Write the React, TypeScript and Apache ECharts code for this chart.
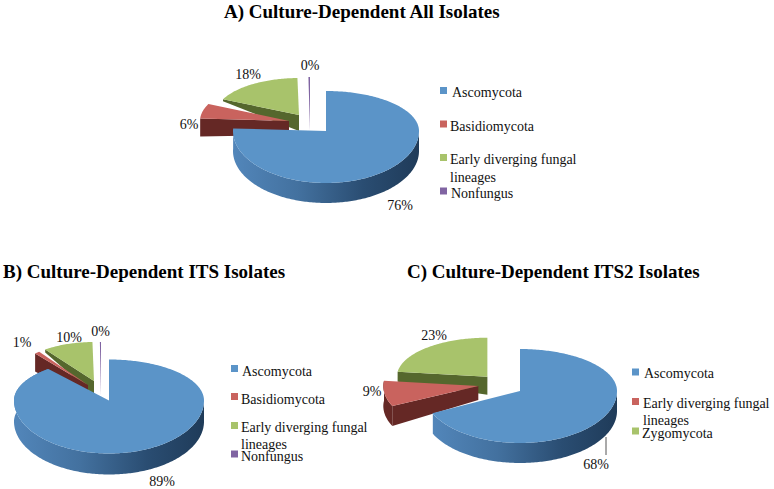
import React, { useEffect, useRef } from "react";
import * as echarts from "echarts";

const namesAB = ["Ascomycota", "Basidiomycota", "Early diverging fungal\nlineages", "Nonfungus"];
const namesC = ["Ascomycota", "Early diverging fungal\nlineages", "Zygomycota"];
const valuesA = [76, 6, 17.7, 0.3];
const valuesB = [89, 1, 9.7, 0.3];
const valuesC = [68, 9, 23];
const coloursAB = ["#5b94c8", "#c9635e", "#a8c36b", "#8064a2"];
const coloursC = ["#5b94c8", "#c9635e", "#a8c36b"];
const wallsAB = ["#2f5680", "#652825", "#55672d", "#4a3a63"];
const wallsC = ["#2f5680", "#652825", "#55672d"];

const FONT = "'Liberation Serif','Times New Roman',serif";
const TEXT = "#111111";

type Geo = { ax: number; ay: number; rx: number; ryT: number; ryB: number; dA: number; dC: number; lx: number; ly: number };

const geoA: Geo[] = [
  { ax: 326, ay: 131, rx: 93, ryT: 40, ryB: 52, dA: 0, dC: 20, lx: 400, ly: 205 },
  { ax: 289, ay: 121, rx: 89, ryT: 40, ryB: 40, dA: 14, dC: 18, lx: 189, ly: 124 },
  { ax: 299, ay: 115, rx: 84, ryT: 37, ryB: 37, dA: 16, dC: 2, lx: 248, ly: 74 },
  { ax: 310, ay: 130, rx: 84, ryT: 53, ryB: 53, dA: 0, dC: 0, lx: 310, ly: 65 },
];
const geoB: Geo[] = [
  { ax: 109, ay: 400.5, rx: 95, ryT: 41, ryB: 53, dA: 0, dC: 21, lx: 162, ly: 481 },
  { ax: 88, ay: 385, rx: 83, ryT: 41, ryB: 41, dA: 15, dC: 18, lx: 22, ly: 342 },
  { ax: 94, ay: 381, rx: 83, ryT: 39, ryB: 39, dA: 14, dC: 3, lx: 69, ly: 337 },
  { ax: 101, ay: 396, rx: 60, ryT: 54, ryB: 54, dA: 0, dC: 0, lx: 100.5, ly: 331 },
];
const geoC: Geo[] = [
  { ax: 520, ay: 391, rx: 97, ryT: 42, ryB: 52, dA: 0, dC: 20, lx: 596, ly: 464 },
  { ax: 478.3, ay: 386, rx: 95, ryT: 42, ryB: 47, dA: 14, dC: 20, lx: 372, ly: 391 },
  { ax: 487.4, ay: 376.7, rx: 90.5, ryT: 39, ryB: 39, dA: 18, dC: 10, lx: 434, ly: 335 },
];

const BLUE_WALL = {
  type: "linear", x: 0, y: 0, x2: 1, y2: 0,
  colorStops: [
    { offset: 0, color: "#5286ba" },
    { offset: 0.35, color: "#43719f" },
    { offset: 0.7, color: "#2a4d72" },
    { offset: 1, color: "#1f3b59" },
  ],
};

function pt(g: Geo, deg: number, dy = 0): number[] {
  const a = (deg * Math.PI) / 180;
  const c = Math.cos(a);
  return [g.ax + g.rx * Math.sin(a), g.ay - (c > 0 ? g.ryT : g.ryB) * c + dy];
}

function pieSeries(values: number[], geos: Geo[], colours: string[], walls: string[]) {
  const total = values.reduce((s, v) => s + v, 0);
  const rows = values.map((v, i) => [v, i]).reverse();
  return {
    type: "custom",
    coordinateSystem: "none",
    silent: true,
    data: rows,
    renderItem: (_p: unknown, api: any) => {
      const v = api.value(0) as number;
      const i = api.value(1) as number;
      const before = values.slice(0, i).reduce((s, x) => s + x, 0);
      const start = (before / total) * 360;
      const end = ((before + v) / total) * 360;
      const g = geos[i];
      const children: any[] = [];
      const apex = [g.ax, g.ay];
      if (g.dA > 0) {
        children.push({
          type: "polygon",
          shape: { points: [pt(g, start), apex, [g.ax, g.ay + g.dA], pt(g, start, g.dC)] },
          style: { fill: walls[i] },
        });
      }
      const wallFrom = Math.max(start, 90);
      const wallTo = Math.min(end, 270);
      if (g.dC > 0 && wallTo > wallFrom) {
        const upper: number[][] = [];
        const lower: number[][] = [];
        for (let d = wallFrom; d <= wallTo; d += 1) {
          upper.push(pt(g, d));
          lower.push(pt(g, d, g.dC));
        }
        if (end > 270) {
          for (let d = 270; d <= end; d += 1) {
            upper.push(pt(g, d));
            lower.push(pt(g, d, g.dC));
          }
        }
        children.push({
          type: "polygon",
          shape: { points: upper.concat(lower.reverse()) },
          style: { fill: i === 0 ? BLUE_WALL : walls[i] },
        });
      }
      const face: number[][] = [apex];
      for (let d = start; d < end; d += 1) face.push(pt(g, d));
      face.push(pt(g, end));
      children.push({ type: "polygon", shape: { points: face }, style: { fill: colours[i] } });
      children.push({
        type: "text",
        style: {
          x: g.lx, y: g.ly, text: `${Math.round((v / total) * 100)}%`,
          fontFamily: FONT, fontSize: 14, fill: TEXT, align: "center", verticalAlign: "middle",
        },
      });
      return { type: "group", children };
    },
  };
}

function title(text: string, x: number, y: number) {
  return {
    type: "text", x, y,
    style: { text, fontFamily: FONT, fontSize: 19, fontWeight: "bold", fill: "#000", align: "left", verticalAlign: "middle" },
  };
}

function legendItem(name: string, colour: string, pos: number[]) {
  const [sx, sy, tx, ty, gap] = pos;
  const out: any[] = [
    { type: "rect", shape: { x: sx, y: sy - 3.5, width: 7, height: 7 }, style: { fill: colour } },
  ];
  name.split("\n").forEach((l, k) => {
    out.push({
      type: "text", x: tx, y: ty + k * gap,
      style: { text: l, fontFamily: FONT, fontSize: 14, fill: TEXT, align: "left", verticalAlign: "middle" },
    });
  });
  return out;
}

const legendA = [[440, 90.5, 452, 92, 0], [440, 124, 450, 126, 0], [440, 157.5, 450, 159, 18], [440, 191, 451, 193, 0]];
const legendB = [[231, 368.5, 242, 371, 0], [231, 396.5, 241, 399, 0], [231, 425.5, 241, 427, 17], [231, 454, 241, 456, 0]];
const legendC = [[632, 372, 644, 373, 0], [632, 401.5, 643, 403, 17], [632, 431, 642, 433, 0]];

export default function App() {
  const ref = useRef<HTMLDivElement>(null);
  useEffect(() => {
    if (!ref.current) return;
    const chart = echarts.init(ref.current, undefined, { renderer: "svg", width: 774, height: 489 });
    const elements: any[] = [
      title("A) Culture-Dependent All Isolates", 224, 11),
      title("B) Culture-Dependent ITS Isolates", 3, 271),
      title("C) Culture-Dependent ITS2 Isolates", 407, 271),
      { type: "line", shape: { x1: 606, y1: 437, x2: 606, y2: 455 }, style: { stroke: "#555", lineWidth: 1 } },
    ];
    namesAB.forEach((n, i) => {
      elements.push(...legendItem(n, coloursAB[i], legendA[i]));
      elements.push(...legendItem(n, coloursAB[i], legendB[i]));
    });
    namesC.forEach((n, i) => {
      elements.push(...legendItem(n, coloursC[i], legendC[i]));
    });
    chart.setOption({
      animation: false,
      backgroundColor: "#ffffff",
      series: [
        pieSeries(valuesA, geoA, coloursAB, wallsAB),
        pieSeries(valuesB, geoB, coloursAB, wallsAB),
        pieSeries(valuesC, geoC, coloursC, wallsC),
      ],
      graphic: { elements },
    });
    return () => chart.dispose();
  }, []);
  return <div ref={ref} style={{ position: "absolute", left: 0, top: 0, width: 774, height: 489 }} />;
}
